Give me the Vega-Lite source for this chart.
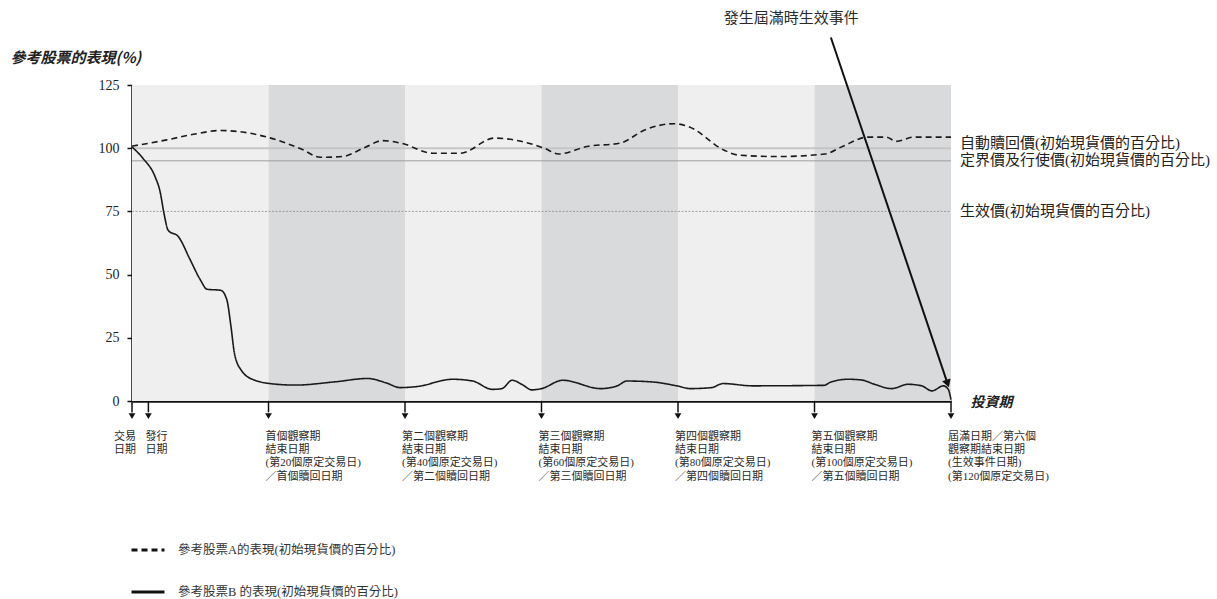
{
  "$schema": "https://vega.github.io/schema/vega-lite/v6.json",
  "width": 819,
  "height": 316,
  "autosize": {"type": "none"},
  "padding": {"left": 132, "top": 85, "right": 266, "bottom": 198},
  "background": "white",
  "config": {
    "view": {"stroke": null},
    "font": "Liberation Serif, Noto Sans CJK TC",
    "text": {"font": "Liberation Serif, Noto Sans CJK TC", "color": "#2a2a2a"}
  },
  "datasets": {
    "bands": [
      {"start": 0, "end": 20, "shade": "light"},
      {"start": 20, "end": 40, "shade": "dark"},
      {"start": 40, "end": 60, "shade": "light"},
      {"start": 60, "end": 80, "shade": "dark"},
      {"start": 80, "end": 100, "shade": "light"},
      {"start": 100, "end": 120, "shade": "dark"}
    ],
    "levels": [
      {"level": 100, "kind": "autocall"},
      {"level": 95, "kind": "strike"},
      {"level": 75, "kind": "knockin"}
    ],
    "levelLabels": [
      {"label": "自動贖回價(初始現貨價的百分比)", "y": 102.2},
      {"label": "定界價及行使價(初始現貨價的百分比)", "y": 95.4},
      {"label": "生效價(初始現貨價的百分比)", "y": 75.2}
    ],
    "dates": [
      {"day": 0, "label": "交易\n日期"},
      {"day": 2.4, "label": "發行\n日期"},
      {"day": 20, "label": "首個觀察期\n結束日期\n(第20個原定交易日)\n／首個贖回日期"},
      {"day": 40, "label": "第二個觀察期\n結束日期\n(第40個原定交易日)\n／第二個贖回日期"},
      {"day": 60, "label": "第三個觀察期\n結束日期\n(第60個原定交易日)\n／第三個贖回日期"},
      {"day": 80, "label": "第四個觀察期\n結束日期\n(第80個原定交易日)\n／第四個贖回日期"},
      {"day": 100, "label": "第五個觀察期\n結束日期\n(第100個原定交易日)\n／第五個贖回日期"},
      {"day": 120, "label": "屆滿日期／第六個\n觀察期結束日期\n(生效事件日期)\n(第120個原定交易日)"}
    ],
    "event": [
      {"x1": 102.4, "y1": 143.8, "x2": 119.5, "y2": 6.9, "tx": 96.6, "ty": 151.7, "text": "發生屆滿時生效事件"}
    ],
    "stocks": [
      {"series": "參考股票A的表現(初始現貨價的百分比)", "day": 0, "value": 100.8},
      {"series": "參考股票A的表現(初始現貨價的百分比)", "day": 5.1, "value": 103.3},
      {"series": "參考股票A的表現(初始現貨價的百分比)", "day": 9, "value": 105.5},
      {"series": "參考股票A的表現(初始現貨價的百分比)", "day": 13, "value": 107},
      {"series": "參考股票A的表現(初始現貨價的百分比)", "day": 16.4, "value": 106.3},
      {"series": "參考股票A的表現(初始現貨價的百分比)", "day": 19.9, "value": 104.3},
      {"series": "參考股票A的表現(初始現貨價的百分比)", "day": 24.8, "value": 99.7},
      {"series": "參考股票A的表現(初始現貨價的百分比)", "day": 27.6, "value": 96.4},
      {"series": "參考股票A的表現(初始現貨價的百分比)", "day": 30.8, "value": 96.7},
      {"series": "參考股票A的表現(初始現貨價的百分比)", "day": 34.2, "value": 100.4},
      {"series": "參考股票A的表現(初始現貨價的百分比)", "day": 36.7, "value": 103},
      {"series": "參考股票A的表現(初始現貨價的百分比)", "day": 39.4, "value": 102},
      {"series": "參考股票A的表現(初始現貨價的百分比)", "day": 44.1, "value": 98},
      {"series": "參考股票A的表現(初始現貨價的百分比)", "day": 48.1, "value": 98},
      {"series": "參考股票A的表現(初始現貨價的百分比)", "day": 53.1, "value": 104},
      {"series": "參考股票A的表現(初始現貨價的百分比)", "day": 60.4, "value": 100},
      {"series": "參考股票A的表現(初始現貨價的百分比)", "day": 62.5, "value": 97.7},
      {"series": "參考股票A的表現(初始現貨價的百分比)", "day": 66.7, "value": 100.7},
      {"series": "參考股票A的表現(初始現貨價的百分比)", "day": 71.5, "value": 102},
      {"series": "參考股票A的表現(初始現貨價的百分比)", "day": 75.2, "value": 107.3},
      {"series": "參考股票A的表現(初始現貨價的百分比)", "day": 79.4, "value": 109.7},
      {"series": "參考股票A的表現(初始現貨價的百分比)", "day": 81.5, "value": 108.6},
      {"series": "參考股票A的表現(初始現貨價的百分比)", "day": 86.7, "value": 99.3},
      {"series": "參考股票A的表現(初始現貨價的百分比)", "day": 88.8, "value": 97.3},
      {"series": "參考股票A的表現(初始現貨價的百分比)", "day": 94.6, "value": 96.7},
      {"series": "參考股票A的表現(初始現貨價的百分比)", "day": 101.5, "value": 97.7},
      {"series": "參考股票A的表現(初始現貨價的百分比)", "day": 104.1, "value": 100.7},
      {"series": "參考股票A的表現(初始現貨價的百分比)", "day": 107.8, "value": 104.4},
      {"series": "參考股票A的表現(初始現貨價的百分比)", "day": 110.5, "value": 104.4},
      {"series": "參考股票A的表現(初始現貨價的百分比)", "day": 112, "value": 102.7},
      {"series": "參考股票A的表現(初始現貨價的百分比)", "day": 114.6, "value": 104.4},
      {"series": "參考股票A的表現(初始現貨價的百分比)", "day": 120, "value": 104.4},
      {"series": "參考股票B 的表現(初始現貨價的百分比)", "day": 0, "value": 100.5},
      {"series": "參考股票B 的表現(初始現貨價的百分比)", "day": 1.6, "value": 96},
      {"series": "參考股票B 的表現(初始現貨價的百分比)", "day": 3.4, "value": 88.6},
      {"series": "參考股票B 的表現(初始現貨價的百分比)", "day": 4.1, "value": 83},
      {"series": "參考股票B 的表現(初始現貨價的百分比)", "day": 4.7, "value": 74},
      {"series": "參考股票B 的表現(初始現貨價的百分比)", "day": 5.3, "value": 67.5},
      {"series": "參考股票B 的表現(初始現貨價的百分比)", "day": 6.8, "value": 65},
      {"series": "參考股票B 的表現(初始現貨價的百分比)", "day": 8.5, "value": 56},
      {"series": "參考股票B 的表現(初始現貨價的百分比)", "day": 10, "value": 48},
      {"series": "參考股票B 的表現(初始現貨價的百分比)", "day": 11, "value": 44.2},
      {"series": "參考股票B 的表現(初始現貨價的百分比)", "day": 13, "value": 43.8},
      {"series": "參考股票B 的表現(初始現貨價的百分比)", "day": 13.9, "value": 40},
      {"series": "參考股票B 的表現(初始現貨價的百分比)", "day": 14.5, "value": 29.5},
      {"series": "參考股票B 的表現(初始現貨價的百分比)", "day": 15, "value": 19},
      {"series": "參考股票B 的表現(初始現貨價的百分比)", "day": 16, "value": 12.2},
      {"series": "參考股票B 的表現(初始現貨價的百分比)", "day": 17.9, "value": 8.3},
      {"series": "參考股票B 的表現(初始現貨價的百分比)", "day": 20.9, "value": 6.7},
      {"series": "參考股票B 的表現(初始現貨價的百分比)", "day": 23.9, "value": 6.3},
      {"series": "參考股票B 的表現(初始現貨價的百分比)", "day": 29.8, "value": 7.6},
      {"series": "參考股票B 的表現(初始現貨價的百分比)", "day": 34.5, "value": 8.9},
      {"series": "參考股票B 的表現(初始現貨價的百分比)", "day": 37.2, "value": 7.2},
      {"series": "參考股票B 的表現(初始現貨價的百分比)", "day": 39.3, "value": 5.3},
      {"series": "參考股票B 的表現(初始現貨價的百分比)", "day": 41.7, "value": 5.7},
      {"series": "參考股票B 的表現(初始現貨價的百分比)", "day": 47, "value": 8.6},
      {"series": "參考股票B 的表現(初始現貨價的百分比)", "day": 49.9, "value": 7.9},
      {"series": "參考股票B 的表現(初始現貨價的百分比)", "day": 52.8, "value": 4.6},
      {"series": "參考股票B 的表現(初始現貨價的百分比)", "day": 54.2, "value": 4.9},
      {"series": "參考股票B 的表現(初始現貨價的百分比)", "day": 55.7, "value": 8.2},
      {"series": "參考股票B 的表現(初始現貨價的百分比)", "day": 57.1, "value": 6.6},
      {"series": "參考股票B 的表現(初始現貨價的百分比)", "day": 58.6, "value": 4.4},
      {"series": "參考股票B 的表現(初始現貨價的百分比)", "day": 60, "value": 4.9},
      {"series": "參考股票B 的表現(初始現貨價的百分比)", "day": 63.1, "value": 8.2},
      {"series": "參考股票B 的表現(初始現貨價的百分比)", "day": 68.7, "value": 4.9},
      {"series": "參考股票B 的表現(初始現貨價的百分比)", "day": 71.1, "value": 6.0},
      {"series": "參考股票B 的表現(初始現貨價的百分比)", "day": 72.5, "value": 7.9},
      {"series": "參考股票B 的表現(初始現貨價的百分比)", "day": 76.4, "value": 7.5},
      {"series": "參考股票B 的表現(初始現貨價的百分比)", "day": 79.8, "value": 6.0},
      {"series": "參考股票B 的表現(初始現貨價的百分比)", "day": 81.8, "value": 4.9},
      {"series": "參考股票B 的表現(初始現貨價的百分比)", "day": 84.9, "value": 5.3},
      {"series": "參考股票B 的表現(初始現貨價的百分比)", "day": 86.6, "value": 6.9},
      {"series": "參考股票B 的表現(初始現貨價的百分比)", "day": 90.9, "value": 6.0},
      {"series": "參考股票B 的表現(初始現貨價的百分比)", "day": 101.4, "value": 6.2},
      {"series": "參考股票B 的表現(初始現貨價的百分比)", "day": 102.4, "value": 7.5},
      {"series": "參考股票B 的表現(初始現貨價的百分比)", "day": 104.9, "value": 8.6},
      {"series": "參考股票B 的表現(初始現貨價的百分比)", "day": 106.9, "value": 8.3},
      {"series": "參考股票B 的表現(初始現貨價的百分比)", "day": 108.8, "value": 6.6},
      {"series": "參考股票B 的表現(初始現貨價的百分比)", "day": 111.3, "value": 4.9},
      {"series": "參考股票B 的表現(初始現貨價的百分比)", "day": 113.7, "value": 6.6},
      {"series": "參考股票B 的表現(初始現貨價的百分比)", "day": 115.7, "value": 6.0},
      {"series": "參考股票B 的表現(初始現貨價的百分比)", "day": 117.2, "value": 4.0},
      {"series": "參考股票B 的表現(初始現貨價的百分比)", "day": 118.9, "value": 6.0},
      {"series": "參考股票B 的表現(初始現貨價的百分比)", "day": 119.6, "value": 4.6},
      {"series": "參考股票B 的表現(初始現貨價的百分比)", "day": 120, "value": 0.5}
    ]
  },
  "layer": [
    {
      "data": {"name": "bands"},
      "mark": {"type": "rect"},
      "encoding": {
        "x": {"field": "start", "type": "quantitative", "scale": {"domain": [0, 120], "nice": false, "zero": false},
          "axis": {"title": "投資期", "titleFont": "Noto Sans CJK TC", "titleFontSize": 14, "titleFontStyle": "italic", "titleFontWeight": "bold", "titleColor": "#222",
            "titleAngle": 0, "titleAlign": "left", "titleBaseline": "middle", "titleX": 838, "titleY": 1,
            "labels": false, "ticks": false, "grid": false, "domainColor": "#111", "domainWidth": 2.5}},
        "x2": {"field": "end"},
        "y": {"datum": 0, "type": "quantitative", "scale": {"domain": [0, 125], "nice": false, "zero": false},
          "axis": {"title": "參考股票的表現(%)", "titleFont": "Noto Sans CJK TC", "titleFontSize": 15, "titleFontStyle": "italic", "titleFontWeight": "bold", "titleColor": "#222",
            "titleAngle": 0, "titleAlign": "left", "titleBaseline": "middle", "titleX": -122, "titleY": -28,
            "values": [0, 25, 50, 75, 100, 125], "grid": false, "domainColor": "#111", "domainWidth": 2.5,
            "tickColor": "#111", "tickSize": 5, "tickWidth": 1.5, "labelPadding": 8,
            "labelFont": "Liberation Serif", "labelFontSize": 14, "labelColor": "#222"}},
        "y2": {"datum": 125},
        "color": {"field": "shade", "type": "nominal", "scale": {"domain": ["light", "dark"], "range": ["#efefef", "#d9dadc"]}, "legend": null}
      }
    },
    {
      "data": {"name": "levels"},
      "transform": [{"filter": "datum.kind === 'autocall'"}],
      "mark": {"type": "rule", "color": "#c6c6c6", "strokeWidth": 2},
      "encoding": {"y": {"field": "level", "type": "quantitative"}, "x": {"datum": 0}, "x2": {"datum": 120}}
    },
    {
      "data": {"name": "levels"},
      "transform": [{"filter": "datum.kind === 'strike'"}],
      "mark": {"type": "rule", "color": "#9d9d9d", "strokeWidth": 1},
      "encoding": {"y": {"field": "level", "type": "quantitative"}, "x": {"datum": 0}, "x2": {"datum": 120}}
    },
    {
      "data": {"name": "levels"},
      "transform": [{"filter": "datum.kind === 'knockin'"}],
      "mark": {"type": "rule", "color": "#8a8a8a", "strokeWidth": 0.8, "strokeDash": [2, 1.5]},
      "encoding": {"y": {"field": "level", "type": "quantitative"}, "x": {"datum": 0}, "x2": {"datum": 120}}
    },
    {
      "data": {"name": "levelLabels"},
      "mark": {"type": "text", "align": "left", "baseline": "middle", "dx": 9, "fontSize": 15, "color": "#222"},
      "encoding": {"y": {"field": "y", "type": "quantitative"}, "x": {"datum": 120}, "text": {"field": "label"}}
    },
    {
      "data": {"name": "stocks"},
      "mark": {"type": "line", "interpolate": "monotone", "color": "#1a1a1a", "strokeWidth": 1.6},
      "encoding": {
        "x": {"field": "day", "type": "quantitative"},
        "y": {"field": "value", "type": "quantitative"},
        "strokeDash": {"field": "series", "type": "nominal",
          "scale": {"domain": ["參考股票A的表現(初始現貨價的百分比)", "參考股票B 的表現(初始現貨價的百分比)"], "range": [[6, 4], [1, 0]]},
          "legend": {"title": null, "orient": "none", "legendX": -2, "legendY": 447, "direction": "vertical",
            "symbolType": "stroke", "symbolSize": 1089, "symbolStrokeWidth": 2.8, "symbolStrokeColor": "#111",
            "labelFont": "Liberation Serif, Noto Sans CJK TC", "labelFontSize": 12.5, "labelColor": "#333",
            "labelOffset": 12, "rowPadding": 17, "labelLimit": 400}}
      }
    },
    {
      "data": {"name": "dates"},
      "mark": {"type": "rule", "color": "#111", "strokeWidth": 1.5},
      "encoding": {"x": {"field": "day", "type": "quantitative"}, "y": {"datum": 0}, "y2": {"datum": -4.5}}
    },
    {
      "data": {"name": "dates"},
      "mark": {"type": "point", "shape": "triangle-down", "filled": true, "color": "#111", "size": 45, "opacity": 1},
      "encoding": {"x": {"field": "day", "type": "quantitative"}, "y": {"datum": -6}}
    },
    {
      "data": {"name": "dates"},
      "transform": [{"filter": "datum.day > 0"}],
      "mark": {"type": "text", "align": "left", "baseline": "top", "dx": -3, "dy": 30, "fontSize": 11, "lineHeight": 13.2, "lineBreak": "\n", "color": "#2a2a2a"},
      "encoding": {"x": {"field": "day", "type": "quantitative"}, "y": {"datum": 0}, "text": {"field": "label"}}
    },
    {
      "data": {"name": "dates"},
      "transform": [{"filter": "datum.day === 0"}],
      "mark": {"type": "text", "align": "right", "baseline": "top", "dx": 4, "dy": 30, "fontSize": 11, "lineHeight": 13.2, "lineBreak": "\n", "color": "#2a2a2a"},
      "encoding": {"x": {"field": "day", "type": "quantitative"}, "y": {"datum": 0}, "text": {"field": "label"}}
    },
    {
      "data": {"name": "event"},
      "mark": {"type": "rule", "color": "#111", "strokeWidth": 2},
      "encoding": {"x": {"field": "x1", "type": "quantitative"}, "y": {"field": "y1", "type": "quantitative"}, "x2": {"field": "x2"}, "y2": {"field": "y2"}}
    },
    {
      "data": {"name": "event"},
      "mark": {"type": "point", "shape": "triangle-down", "filled": true, "color": "#111", "size": 80, "opacity": 1, "angle": 341},
      "encoding": {"x": {"field": "x2", "type": "quantitative"}, "y": {"field": "y2", "type": "quantitative"}}
    },
    {
      "data": {"name": "event"},
      "mark": {"type": "text", "align": "center", "baseline": "middle", "fontSize": 15, "color": "#2a2a2a"},
      "encoding": {"x": {"field": "tx", "type": "quantitative"}, "y": {"field": "ty", "type": "quantitative"}, "text": {"field": "text"}}
    }
  ]
}
